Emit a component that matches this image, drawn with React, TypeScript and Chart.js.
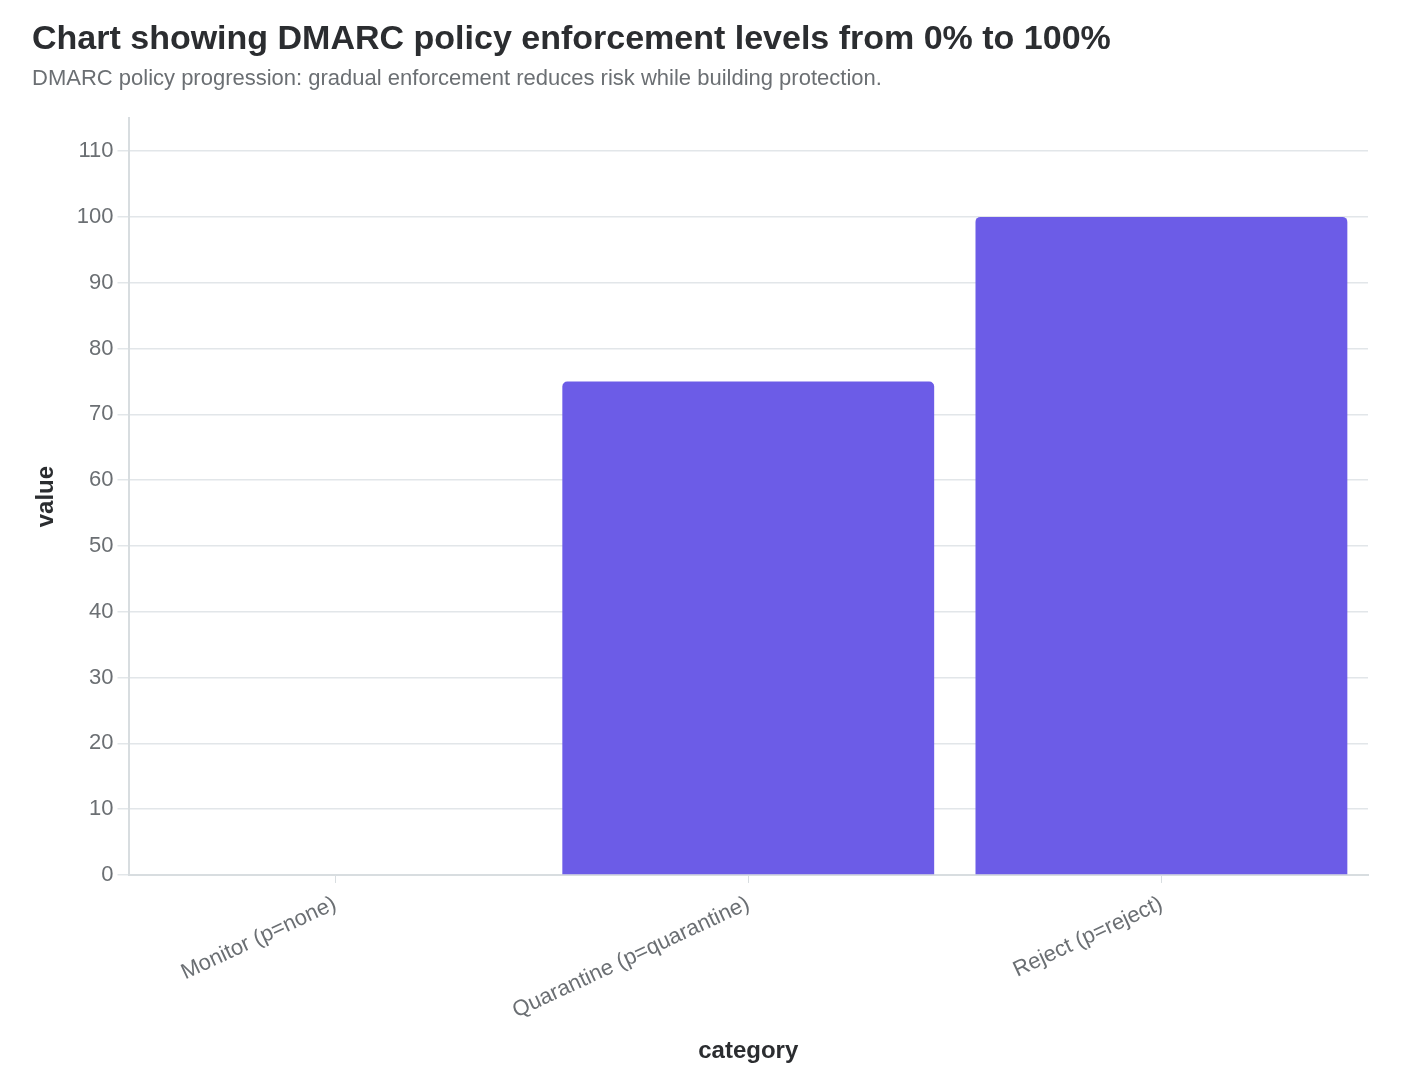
import { useEffect, useRef } from "react";
import { Chart, registerables } from "chart.js";

Chart.register(...registerables);

const categories = ["Monitor (p=none)", "Quarantine (p=quarantine)", "Reject (p=reject)"];
const values = [0, 75, 100];

const FONT = "'Liberation Sans', Arial, Helvetica, sans-serif";

const App = () => {
  const chartRef = useRef<HTMLCanvasElement>(null);
  const chartInstance = useRef<Chart | null>(null);

  useEffect(() => {
    document.body.style.margin = "0";
    if (!chartRef.current) return;
    if (chartInstance.current) chartInstance.current.destroy();

    const ctx = chartRef.current.getContext("2d");
    if (!ctx) return;

    chartInstance.current = new Chart(ctx, {
      type: "bar",
      data: {
        labels: categories,
        datasets: [
          {
            data: values,
            backgroundColor: "#6c5ce7",
            borderRadius: { topLeft: 5, topRight: 5, bottomLeft: 0, bottomRight: 0 },
            borderSkipped: false,
            barPercentage: 0.9,
            categoryPercentage: 1,
          },
        ],
      },
      options: {
        responsive: false,
        animation: false,
        layout: { padding: { left: 32, right: 50, top: 17, bottom: 26 } },
        plugins: {
          legend: { display: false },
          tooltip: { enabled: false },
          title: {
            display: true,
            text: "Chart showing DMARC policy enforcement levels from 0% to 100%",
            align: "start",
            color: "#2b2d30",
            font: { family: FONT, size: 34, weight: "bold" },
            padding: { top: 2, bottom: 6 },
          },
          subtitle: {
            display: true,
            text: "DMARC policy progression: gradual enforcement reduces risk while building protection.",
            align: "start",
            color: "#6b6f73",
            font: { family: FONT, size: 22 },
            padding: { bottom: 26 },
          },
        },
        scales: {
          x: {
            grid: {
              display: true,
              offset: false,
              drawOnChartArea: false,
              drawTicks: true,
              tickLength: 8,
              color: "#d8dde0",
            },
            border: { color: "#d8dde0", width: 2 },
            ticks: {
              color: "#6b6f73",
              font: { family: FONT, size: 22 },
              minRotation: 25,
              maxRotation: 25,
              padding: 8,
            },
            title: {
              display: true,
              text: "category",
              color: "#2b2d30",
              font: { family: FONT, size: 24, weight: "bold" },
              padding: { top: 5, bottom: 0 },
            },
          },
          y: {
            min: 0,
            max: 115,
            afterBuildTicks: (scale) => {
              scale.ticks = scale.ticks.filter((t) => t.value <= 110);
            },
            ticks: {
              stepSize: 10,
              color: "#6b6f73",
              font: { family: FONT, size: 22 },
              padding: 4,
            },
            grid: { color: "#e2e6e9", lineWidth: 1.5, tickLength: 11 },
            border: { color: "#d8dde0", width: 2 },
            title: {
              display: true,
              text: "value",
              color: "#2b2d30",
              font: { family: FONT, size: 24, weight: "bold" },
              padding: { top: 0, bottom: 12 },
            },
          },
        },
      },
    });

    return () => {
      if (chartInstance.current) {
        chartInstance.current.destroy();
        chartInstance.current = null;
      }
    };
  }, []);

  return (
    <div style={{ width: 1418, height: 1092, background: "#fff" }}>
      <canvas ref={chartRef} width={1418} height={1092} />
    </div>
  );
};

export default App;
